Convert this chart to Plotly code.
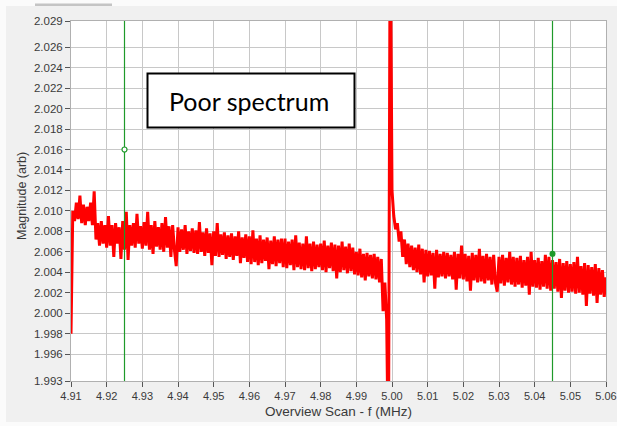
import plotly.graph_objects as go

# ---------------- data ----------------
FREQ_START = 4.9100   # MHz, first sample
FREQ_STEP = 0.0005    # MHz, sample spacing

magnitude = [
    # 4.9100 - 4.9145
    1.9980, 2.0100, 2.0090, 2.0108, 2.0092, 2.0115, 2.0088, 2.0106, 2.0086, 2.0104,
    # 4.9150 - 4.9195
    2.0090, 2.0108, 2.0086, 2.0119, 2.0072, 2.0088, 2.0066, 2.0090, 2.0068, 2.0086,
    # 4.9200 - 4.9245
    2.0064, 2.0095, 2.0066, 2.0086, 2.0055, 2.0088, 2.0068, 2.0084, 2.0053, 2.0090,
    # 4.9250 - 4.9295
    2.0062, 2.0099, 2.0052, 2.0086, 2.0066, 2.0088, 2.0064, 2.0097, 2.0068, 2.0085,
    # 4.9300 - 4.9345
    2.0063, 2.0089, 2.0066, 2.0099, 2.0062, 2.0086, 2.0058, 2.0090, 2.0065, 2.0084,
    # 4.9350 - 4.9395
    2.0062, 2.0088, 2.0060, 2.0094, 2.0064, 2.0085, 2.0055, 2.0086, 2.0062, 2.0046,
    # 4.9400 - 4.9445
    2.0084, 2.0060, 2.0082, 2.0062, 2.0086, 2.0058, 2.0080, 2.0061, 2.0083, 2.0059,
    # 4.9450 - 4.9495
    2.0081, 2.0058, 2.0089, 2.0060, 2.0079, 2.0056, 2.0083, 2.0059, 2.0078, 2.0047,
    # 4.9500 - 4.9545
    2.0080, 2.0056, 2.0088, 2.0055, 2.0077, 2.0057, 2.0079, 2.0053, 2.0076, 2.0055,
    # 4.9550 - 4.9595
    2.0078, 2.0052, 2.0075, 2.0056, 2.0080, 2.0049, 2.0074, 2.0054, 2.0077, 2.0050,
    # 4.9600 - 4.9645
    2.0075, 2.0048, 2.0081, 2.0050, 2.0073, 2.0047, 2.0076, 2.0049, 2.0072, 2.0051,
    # 4.9650 - 4.9695
    2.0074, 2.0043, 2.0071, 2.0048, 2.0075, 2.0046, 2.0072, 2.0049, 2.0073, 2.0045,
    # 4.9700 - 4.9745
    2.0073, 2.0044, 2.0070, 2.0047, 2.0072, 2.0042, 2.0076, 2.0045, 2.0069, 2.0043,
    # 4.9750 - 4.9795
    2.0068, 2.0042, 2.0075, 2.0044, 2.0068, 2.0041, 2.0070, 2.0043, 2.0067, 2.0045,
    # 4.9800 - 4.9845
    2.0068, 2.0042, 2.0071, 2.0040, 2.0066, 2.0044, 2.0069, 2.0041, 2.0067, 2.0034,
    # 4.9850 - 4.9895
    2.0066, 2.0040, 2.0070, 2.0042, 2.0065, 2.0039, 2.0068, 2.0041, 2.0064, 2.0038,
    # 4.9900 - 4.9945
    2.0060, 2.0037, 2.0063, 2.0035, 2.0058, 2.0032, 2.0059, 2.0036, 2.0057, 2.0034,
    # 4.9950 - 4.9995
    2.0058, 2.0033, 2.0055, 2.0030, 2.0053, 2.0002, 2.0030, 1.9994, 1.9850, 2.0400,
    # 5.0000 - 5.0045
    2.0120, 2.0095, 2.0082, 2.0088, 2.0070, 2.0080, 2.0055, 2.0072, 2.0048, 2.0068,
    # 5.0050 - 5.0095
    2.0045, 2.0066, 2.0042, 2.0064, 2.0040, 2.0067, 2.0038, 2.0063, 2.0030, 2.0062,
    # 5.0100 - 5.0145
    2.0036, 2.0061, 2.0037, 2.0059, 2.0024, 2.0062, 2.0035, 2.0058, 2.0036, 2.0060,
    # 5.0150 - 5.0195
    2.0034, 2.0059, 2.0036, 2.0057, 2.0033, 2.0060, 2.0023, 2.0058, 2.0034, 2.0066,
    # 5.0200 - 5.0245
    2.0033, 2.0058, 2.0031, 2.0056, 2.0022, 2.0059, 2.0032, 2.0057, 2.0030, 2.0063,
    # 5.0250 - 5.0295
    2.0031, 2.0056, 2.0029, 2.0058, 2.0032, 2.0055, 2.0028, 2.0057, 2.0030, 2.0021,
    # 5.0300 - 5.0345
    2.0055, 2.0029, 2.0057, 2.0027, 2.0054, 2.0030, 2.0060, 2.0028, 2.0055, 2.0026,
    # 5.0350 - 5.0395
    2.0054, 2.0028, 2.0056, 2.0025, 2.0052, 2.0027, 2.0055, 2.0018, 2.0060, 2.0026,
    # 5.0400 - 5.0445
    2.0052, 2.0025, 2.0054, 2.0023, 2.0051, 2.0026, 2.0057, 2.0024, 2.0055, 2.0022,
    # 5.0450 - 5.0495
    2.0052, 2.0024, 2.0050, 2.0021, 2.0053, 2.0015, 2.0049, 2.0022, 2.0051, 2.0020,
    # 5.0500 - 5.0545
    2.0048, 2.0021, 2.0050, 2.0019, 2.0055, 2.0020, 2.0046, 2.0018, 2.0049, 2.0007,
    # 5.0550 - 5.0595
    2.0047, 2.0019, 2.0045, 2.0017, 2.0048, 2.0010, 2.0044, 2.0018, 2.0042, 2.0016,
    # 5.0600
    2.0035,
]
frequency = [round(FREQ_START + i * FREQ_STEP, 4) for i in range(len(magnitude))]

cursor_freq = [4.925, 5.045]
cursor_mag = [2.016, 2.0058]

x_ticks = [4.91, 4.92, 4.93, 4.94, 4.95, 4.96, 4.97, 4.98, 4.99,
           5.00, 5.01, 5.02, 5.03, 5.04, 5.05, 5.06]
x_tick_labels = ["4.91", "4.92", "4.93", "4.94", "4.95", "4.96", "4.97", "4.98",
                 "4.99", "5.00", "5.01", "5.02", "5.03", "5.04", "5.05", "5.06"]

y_min, y_max = 1.99337, 2.02856
y_ticks = [y_min, 1.996, 1.998, 2.000, 2.002, 2.004, 2.006, 2.008, 2.010, 2.012,
           2.014, 2.016, 2.018, 2.020, 2.022, 2.024, 2.026, y_max]
y_tick_labels = ["1.993", "1.996", "1.998", "2.000", "2.002", "2.004", "2.006",
                 "2.008", "2.010", "2.012", "2.014", "2.016", "2.018", "2.020",
                 "2.022", "2.024", "2.026", "2.029"]

annotation_text = "Poor spectrum"
x_title = "Overview Scan - f (MHz)"
y_title = "Magnitude (arb)"

# ---------------- figure ----------------
GREEN = "#1f9a2a"
fig = go.Figure()

fig.add_trace(go.Scatter(
    x=frequency, y=magnitude, mode="lines",
    line=dict(color="#ff0000", width=3), showlegend=False, hoverinfo="skip"))

for cf in cursor_freq:
    fig.add_trace(go.Scatter(
        x=[cf, cf], y=[y_min, y_max], mode="lines",
        line=dict(color=GREEN, width=1.2), showlegend=False, hoverinfo="skip"))

fig.add_trace(go.Scatter(
    x=[cursor_freq[0]], y=[cursor_mag[0]], mode="markers",
    marker=dict(size=5, color="white", line=dict(color=GREEN, width=1.2)),
    showlegend=False))
fig.add_trace(go.Scatter(
    x=[cursor_freq[1]], y=[cursor_mag[1]], mode="markers",
    marker=dict(size=6, color=GREEN, line=dict(color=GREEN, width=0)),
    showlegend=False))

x_tick_font = dict(family="Liberation Sans, Arial, sans-serif", size=11, color="#3a3a3a")
y_tick_font = dict(family="Liberation Sans, Arial, sans-serif", size=11.5, color="#3a3a3a")

fig.update_xaxes(
    range=[x_ticks[0], x_ticks[-1]], tickvals=x_ticks, ticktext=x_tick_labels,
    showgrid=True, gridcolor="#c8c8c8", gridwidth=1,
    showline=True, linecolor="#b0b0b0", linewidth=1, mirror=True,
    ticks="outside", ticklen=5, tickcolor="#555555", tickwidth=1,
    tickfont=x_tick_font, zeroline=False, automargin=False)
fig.update_yaxes(
    range=[y_min, y_max], tickvals=y_ticks, ticktext=y_tick_labels,
    showgrid=True, gridcolor="#c8c8c8", gridwidth=1,
    showline=True, linecolor="#b0b0b0", linewidth=1, mirror=True,
    ticks="outside", ticklen=5, tickcolor="#555555", tickwidth=1,
    tickfont=y_tick_font, zeroline=False, automargin=False)

PLOT_W = 617 - 71 - 11
PLOT_H = 426 - 21 - 45

def px_x(p):
    return (p - 71) / PLOT_W

def px_y(p):
    return 1 - (p - 21) / PLOT_H

shapes = [
    # white edges of the window
    dict(type="rect", xref="paper", yref="paper", x0=px_x(0), x1=px_x(617),
         y0=px_y(6), y1=px_y(0), fillcolor="#fbfbfb", line=dict(width=0), layer="below"),
    dict(type="rect", xref="paper", yref="paper", x0=px_x(0), x1=px_x(6),
         y0=px_y(426), y1=px_y(0), fillcolor="#fbfbfb", line=dict(width=0), layer="below"),
    dict(type="rect", xref="paper", yref="paper", x0=px_x(0), x1=px_x(617),
         y0=px_y(426), y1=px_y(422), fillcolor="#fbfbfb", line=dict(width=0), layer="below"),
    # small tab at top-left
    dict(type="rect", xref="paper", yref="paper", x0=px_x(35), x1=px_x(112),
         y0=px_y(6), y1=px_y(3.5), fillcolor="#c4c4c4", line=dict(width=0), layer="below"),
    # annotation box
    dict(type="rect", xref="paper", yref="paper", x0=px_x(147.5), x1=px_x(354.5),
         y0=px_y(127.5), y1=px_y(73.5), fillcolor="white",
         line=dict(color="black", width=2), layer="above"),
]

annotations = [
    dict(text=annotation_text, xref="paper", yref="paper",
         x=px_x(249), y=px_y(100.5), showarrow=False,
         font=dict(family="Lato, Open Sans, sans-serif", size=25, color="black"),
         xanchor="center", yanchor="middle"),
    dict(text=x_title, xref="paper", yref="paper", x=0.5, y=px_y(411),
         showarrow=False, xanchor="center", yanchor="middle",
         font=dict(family="Liberation Sans, Arial, sans-serif", size=13.5, color="#3a3a3a")),
    dict(text=y_title, xref="paper", yref="paper", x=px_x(22), y=px_y(196),
         showarrow=False, xanchor="center", yanchor="middle", textangle=-90,
         font=dict(family="Liberation Sans, Arial, sans-serif", size=12.5, color="#3a3a3a")),
]

fig.update_layout(
    width=617, height=426,
    margin=dict(l=71, r=11, t=21, b=45, autoexpand=False),
    paper_bgcolor="#f0f0f0", plot_bgcolor="white",
    shapes=shapes, annotations=annotations,
    showlegend=False,
)

fig.write_html(
    "out.html",
    config={"displayModeBar": False},
    post_script="document.body.style.margin='0';document.body.style.overflow='hidden';",
)
